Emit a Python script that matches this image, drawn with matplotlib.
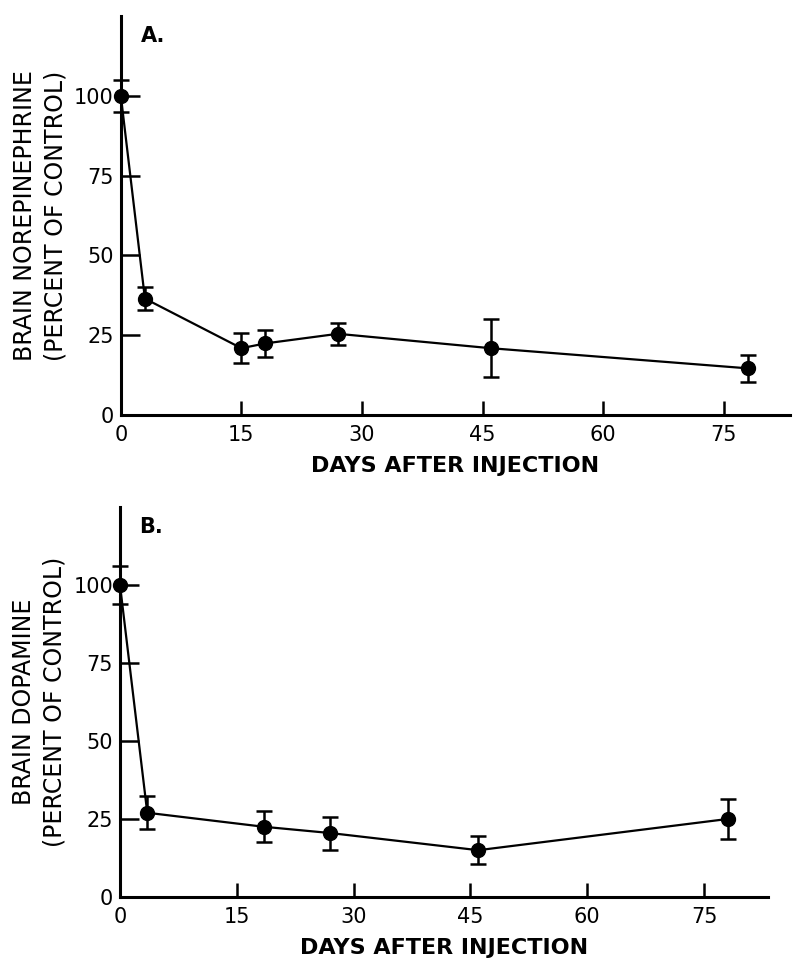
import numpy as np
import matplotlib.pyplot as plt

# norepinephrine (panel A)
ne_days = [0, 3, 15, 18, 27, 46, 78]
ne_pct = [100, 36.5, 21, 22.5, 25.5, 21, 14.7]
ne_err = [5, 3.5, 4.7, 4.3, 3.5, 9, 4.3]

# dopamine (panel B)
da_days = [0, 3.5, 18.5, 27, 46, 78]
da_pct = [100, 27, 22.5, 20.5, 15, 25]
da_err = [6, 5.3, 5, 5.3, 4.5, 6.3]

x_ticks = [0, 15, 30, 45, 60, 75]
y_ticks = [0, 25, 50, 75, 100]

plt.rcParams['font.family'] = ['DejaVu Sans']


def panel(ax, days, pct, err, ylabel, tag):
    ax.errorbar(days, pct, yerr=err, color='black', lw=1.6, marker='o',
                ms=10, capsize=6, capthick=1.8, elinewidth=1.8, clip_on=False)
    ax.set_xlim(0, 83.2)
    ax.set_ylim(0, 125)
    for s in ['top', 'right']:
        ax.spines[s].set_visible(False)
    for s in ['left', 'bottom']:
        ax.spines[s].set_linewidth(2.2)
    ax.set_yticks(y_ticks)
    ax.set_xticks(x_ticks)
    ax.tick_params(axis='y', direction='in', length=14, width=1.8, labelsize=15, pad=5)
    ax.tick_params(axis='x', direction='in', length=10, width=1.8, labelsize=15, pad=7)
    # no tick marks at the origin, only labels
    ax.xaxis.get_major_ticks()[0].tick1line.set_visible(False)
    ax.yaxis.get_major_ticks()[0].tick1line.set_visible(False)
    ax.set_xlabel('DAYS AFTER INJECTION', fontsize=16, fontweight='bold', labelpad=8)
    ax.set_ylabel(ylabel, fontsize=17, labelpad=5, linespacing=1.35)
    ax.text(0.03, 0.975, tag, transform=ax.transAxes, fontsize=15,
            fontweight='bold', va='top')


fig = plt.figure(figsize=(8, 9.75), dpi=100)
ax1 = fig.add_axes([0.151, 0.574, 0.836, 0.41])
ax2 = fig.add_axes([0.150, 0.080, 0.810, 0.40])

panel(ax1, ne_days, ne_pct, ne_err, 'BRAIN NOREPINEPHRINE\n(PERCENT OF CONTROL)', 'A.')
panel(ax2, da_days, da_pct, da_err, 'BRAIN DOPAMINE\n(PERCENT OF CONTROL)', 'B.')

fig.savefig('out.png', dpi=100)
